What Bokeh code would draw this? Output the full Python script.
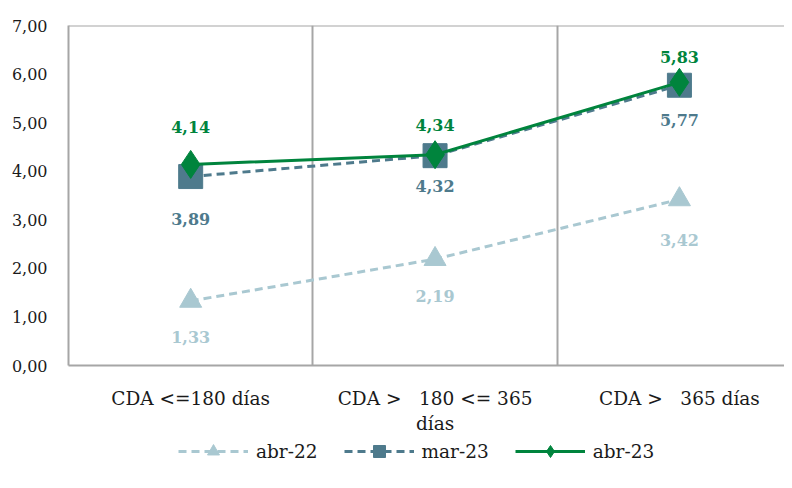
from bokeh.plotting import figure
from bokeh.layouts import column
from bokeh.models import ColumnDataSource, FixedTicker, Span, Legend, LegendItem, Range1d
from bokeh.core.properties import value
from bokeh.embed import file_html
from bokeh.resources import INLINE

categories = ["CDA <=180 días", "CDA >\u00a0\u00a0 180 <= 365\ndías", "CDA >\u00a0\u00a0 365 días"]
series_names = ["abr-22", "mar-23", "abr-23"]
abr22 = [1.33, 2.19, 3.42]
mar23 = [3.89, 4.32, 5.77]
abr23 = [4.14, 4.34, 5.83]
y_ticks = [0, 1, 2, 3, 4, 5, 6, 7]

FONT = "DejaVu Serif"
GRID = "#A6A6A6"
colors = ["#A9C8D1", "#4E7A8C", "#00843D"]
dashes = ["8 5", "8 5", "solid"]
markers = ["triangle", "square", "diamond"]
msizes = [22, 24, 28]
label_offsets = [[36, 37, 41], [42, 30, 35], [-37, -30, -25]]

def fmt(v):
    return f"{v:.2f}".replace(".", ",")

p = figure(width=784, height=436, output_backend="svg", toolbar_location=None,
           x_range=Range1d(0, 2.93), y_range=Range1d(0, 7),
           min_border_left=68, min_border_top=25, min_border_right=0,
           min_border_bottom=68)
p.outline_line_color = None
p.background_fill_color = "white"
p.border_fill_color = "white"

xs = [i + 0.5 for i in range(len(categories))]

# axes
p.yaxis.ticker = FixedTicker(ticks=y_ticks)
p.yaxis.major_label_overrides = {t: fmt(t) for t in y_ticks}
p.xaxis.ticker = FixedTicker(ticks=xs)
p.xaxis.major_label_overrides = {x: c for x, c in zip(xs, categories)}
for ax in (p.xaxis[0], p.yaxis[0]):
    ax.axis_line_color = GRID
    ax.axis_line_width = 2
    ax.major_tick_line_color = None
    ax.minor_tick_line_color = None
    ax.major_label_text_font = FONT
    ax.major_label_text_color = "#1a1a1a"
p.yaxis.major_label_text_font_size = "16px"
p.xaxis.major_label_text_font_size = "18.5px"
p.yaxis.major_label_standoff = 15
p.xaxis.major_label_standoff = 16

p.ygrid.grid_line_color = None
p.xgrid.ticker = FixedTicker(ticks=[1, 2])
p.xgrid.grid_line_color = GRID
p.xgrid.grid_line_width = 2

p.add_layout(Span(location=7, dimension="width", line_color=GRID, line_width=2))

# legend strip: same series drawn out of its (empty) view, only the legend shows
lf = figure(width=784, height=36, output_backend="svg", toolbar_location=None,
            x_axis_type=None, y_axis_type=None, min_border=0,
            x_range=Range1d(0, 3), y_range=Range1d(-20, -19))
lf.outline_line_color = None
lf.grid.visible = False

items = []
for name, vals, col, dash, mk, ms, offs in zip(series_names, [abr22, mar23, abr23], colors,
                                                dashes, markers, msizes, label_offsets):
    src = ColumnDataSource(dict(x=xs, y=vals, lbl=[fmt(v) for v in vals], off=offs))
    p.line("x", "y", source=src, line_color=col, line_width=3, line_dash=dash)
    p.scatter("x", "y", source=src, marker=mk, size=ms, fill_color=col, line_color=col)
    p.text("x", "y", text="lbl", source=src, y_offset="off", text_align="center",
           text_baseline="middle", text_color=col, text_font=value(FONT),
           text_font_size="16px", text_font_style="bold")
    lln = lf.line("x", "y", source=src, line_color=col, line_width=3, line_dash=dash)
    lsc = lf.scatter("x", "y", source=src, marker=mk, size=ms, fill_color=col, line_color=col)
    items.append(LegendItem(label=name, renderers=[lln, lsc]))

legend = Legend(items=items, orientation="horizontal", location=(110, 6),
                glyph_width=70, glyph_height=30, label_text_font=FONT,
                label_text_font_size="18.5px", label_text_color="#1a1a1a",
                spacing=26, label_standoff=8, border_line_color=None,
                background_fill_alpha=0, margin=0, padding=0)
lf.add_layout(legend, "center")

open("out.html", "w").write(file_html(column(p, lf), INLINE))
